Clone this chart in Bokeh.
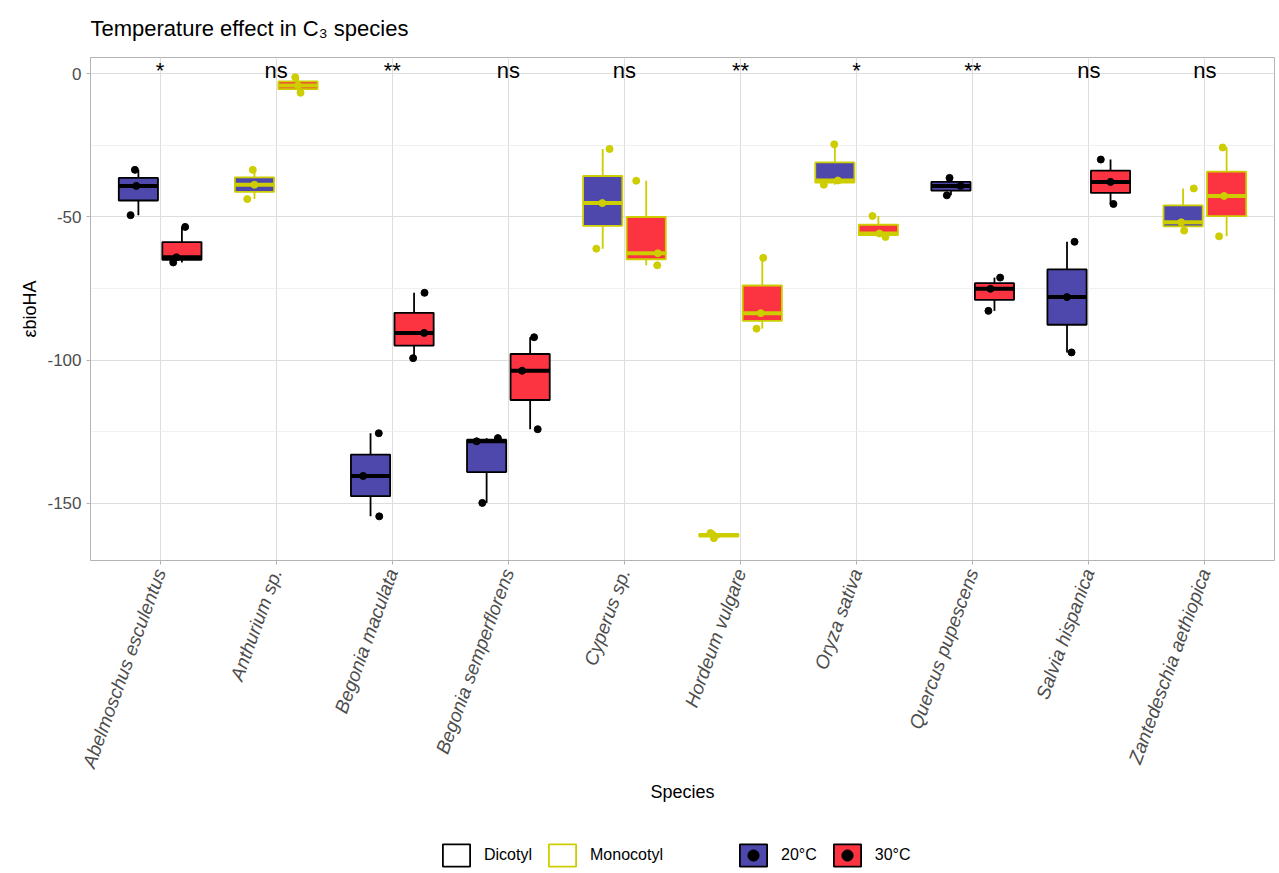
import numpy as np
from bokeh.plotting import figure
from bokeh.layouts import column
from bokeh.models import Range1d, FixedTicker, Legend, LegendItem, ColumnDataSource
from bokeh.core.properties import value
from bokeh.embed import file_html
from bokeh.resources import INLINE

# ---------------- data ----------------
species = ["Abelmoschus esculentus", "Anthurium sp.", "Begonia maculata",
           "Begonia semperflorens", "Cyperus sp.", "Hordeum vulgare",
           "Oryza sativa", "Quercus pupescens", "Salvia hispanica",
           "Zantedeschia aethiopica"]
clade = ["Dicotyl", "Monocotyl", "Dicotyl", "Dicotyl", "Monocotyl",
         "Monocotyl", "Monocotyl", "Dicotyl", "Dicotyl", "Monocotyl"]
signif = ["*", "ns", "**", "ns", "ns", "**", "*", "**", "ns", "ns"]
temps = ["20°C", "30°C"]
y_ticks = [-150, -100, -50, 0]
y_tick_labels = ["-150", "-100", "-50", "0"]

eps_20 = [[-33.6, -39.2, -49.4], [-33.6, -38.8, -43.8], [-125.5, -140.4, -154.5],
          [-127.2, -128.3, -149.8], [-26.3, -45.2, -61.1], [-160.3, -161.0, -162.1],
          [-24.7, -37.3, -38.8], [-36.4, -39.2, -42.5], [-58.7, -78.0, -97.3],
          [-40.1, -51.9, -54.8]]
eps_30 = [[-53.5, -64.1, -65.9], [-1.3, -4.2, -6.7], [-76.5, -90.5, -99.3],
          [-92.0, -103.7, -124.1], [-37.4, -62.7, -66.9], [-64.3, -83.6, -89.0],
          [-49.7, -55.8, -57.0], [-71.2, -75.1, -82.8], [-30.0, -37.8, -45.5],
          [-25.8, -42.7, -56.8]]
# horizontal jitter of the points (in category units)
jit_20 = [[-0.03, -0.018, -0.067], [-0.014, 0.0, -0.062], [0.071, -0.063, 0.075],
          [0.097, -0.086, -0.037], [0.059, -0.003, -0.055], [-0.071, -0.05, -0.042],
          [-0.005, 0.026, -0.095], [-0.012, 0.083, -0.035], [0.065, 0.0, 0.039],
          [0.092, -0.016, 0.009]]
jit_30 = [[0.028, -0.047, -0.075], [-0.024, 0.0, 0.022], [0.09, 0.087, -0.008],
          [0.034, -0.069, 0.065], [-0.086, 0.1, 0.095], [0.008, -0.013, -0.05],
          [-0.051, 0.009, 0.061], [0.049, -0.034, -0.052], [-0.084, 0.0, 0.025],
          [-0.034, -0.022, -0.065]]
sig_y = 1.2

# ---------------- styles ----------------
FONT = "Liberation Sans"
fill_col = {"20°C": "#4F48AC", "30°C": "#FC3441"}
line_col = {"Dicotyl": "#000000", "Monocotyl": "#CDCD00"}
dodge = {"20°C": -0.1875, "30°C": 0.1875}
box_w = 0.3375

vals = {"20°C": eps_20, "30°C": eps_30}
jits = {"20°C": jit_20, "30°C": jit_30}

box = dict(x=[], q1=[], med=[], q3=[], lo=[], hi=[], fill=[], line=[], x0=[], x1=[])
pts = dict(x=[], y=[], color=[])
for i, sp in enumerate(species):
    for t in temps:
        v = np.array(vals[t][i])
        q1, med, q3 = np.percentile(v, [25, 50, 75])
        iqr = q3 - q1
        lo = v[v >= q1 - 1.5 * iqr].min()
        hi = v[v <= q3 + 1.5 * iqr].max()
        xc = i + 1 + dodge[t]
        box["x"].append(xc); box["q1"].append(q1); box["med"].append(med)
        box["q3"].append(q3); box["lo"].append(lo); box["hi"].append(hi)
        box["fill"].append(fill_col[t]); box["line"].append(line_col[clade[i]])
        box["x0"].append(xc - box_w / 2); box["x1"].append(xc + box_w / 2)
        for y, j in zip(vals[t][i], jits[t][i]):
            pts["x"].append(xc + j); pts["y"].append(y)
            pts["color"].append(line_col[clade[i]])

bsrc = ColumnDataSource(box)
psrc = ColumnDataSource(pts)
tsrc = ColumnDataSource(dict(x=list(range(1, len(species) + 1)),
                             y=[sig_y] * len(species), text=signif))

p = figure(width=1279, height=830, x_range=Range1d(0.4, 10.6), y_range=Range1d(-169.9, 5.6),
           output_backend="svg", toolbar_location=None,
           min_border_left=90, min_border_right=5, min_border_top=57, min_border_bottom=270)

p.title.text = "Temperature effect in C\u2083 species"
p.title.text_font = FONT
p.title.text_font_size = "22px"
p.title.text_font_style = "normal"
p.title.text_color = "black"
p.title.standoff = 29
p.title.vertical_align = "top"
p.title.align = "left"

p.outline_line_color = "#B3B3B3"
p.outline_line_width = 1
p.background_fill_color = "white"

p.xgrid.grid_line_color = "#DEDEDE"
p.ygrid.grid_line_color = "#DEDEDE"
p.ygrid.minor_grid_line_color = "#EBEBEB"
p.ygrid.minor_grid_line_width = 0.7

p.yaxis.ticker = FixedTicker(ticks=y_ticks, minor_ticks=[-175, -125, -75, -25, 25])
p.yaxis.major_label_overrides = dict(zip(y_ticks, y_tick_labels))
p.xaxis.ticker = FixedTicker(ticks=list(range(1, len(species) + 1)))
p.xaxis.major_label_overrides = {i + 1: s for i, s in enumerate(species)}
p.xaxis.major_label_orientation = np.deg2rad(70)
p.xaxis.major_label_text_font_style = "italic"

for ax in (p.xaxis[0], p.yaxis[0]):
    ax.axis_line_color = None
    ax.major_tick_line_color = "#B3B3B3"
    ax.major_tick_out = 4
    ax.major_tick_in = 0
    ax.minor_tick_line_color = None
    ax.major_label_text_font = FONT
    ax.major_label_text_color = "#4D4D4D"
    ax.axis_label_text_font = FONT
    ax.axis_label_text_font_size = "18px"
    ax.axis_label_text_font_style = "normal"
    ax.axis_label_text_color = "black"
p.xaxis.major_label_text_font_size = "19px"
p.yaxis.major_label_text_font_size = "17px"
p.xaxis.axis_label = "Species"
p.yaxis.axis_label = "εbioHA"
p.xaxis.axis_label_standoff = 5
p.yaxis.axis_label_standoff = 4

# whiskers
p.segment(x0="x", y0="lo", x1="x", y1="q1", line_color="line", line_width=1.8, source=bsrc)
p.segment(x0="x", y0="q3", x1="x", y1="hi", line_color="line", line_width=1.8, source=bsrc)
# boxes
p.quad(left="x0", right="x1", bottom="q1", top="q3", fill_color="fill", line_color="line",
       line_width=1.8, source=bsrc)
# medians
p.segment(x0="x0", y0="med", x1="x1", y1="med", line_color="line", line_width=4, source=bsrc)
# points
p.scatter(x="x", y="y", size=7, fill_color="color", line_color="color", source=psrc)
# significance labels
p.text(x="x", y="y", text="text", text_align="center", text_baseline="middle",
       text_font=value(FONT), text_font_size="22px", text_color="black", source=tsrc)

# ---------------- legend strip ----------------
lg = figure(width=1279, height=43, x_range=Range1d(0, 1), y_range=Range1d(0, 1),
            output_backend="svg", toolbar_location=None, x_axis_type=None, y_axis_type=None,
            min_border_left=0, min_border_right=0, min_border_top=0, min_border_bottom=0)
lg.outline_line_color = None
lg.xgrid.visible = False
lg.ygrid.visible = False

# key renderers hold one off-range dummy row so that the legend can draw them
dummy = ColumnDataSource(dict(a=[5.0], b=[6.0]))

def key_box(fill, line):
    return lg.quad(left="a", right="b", top="b", bottom="a", fill_color=fill,
                   line_color=line, line_width=1.8, source=dummy)

r_dic = key_box("white", line_col["Dicotyl"])
r_mon = key_box("white", line_col["Monocotyl"])
r_20 = key_box(fill_col["20°C"], "black")
r_30 = key_box(fill_col["30°C"], "black")
r_dot = lg.scatter(x="a", y="b", size=8, color="black", source=dummy)

def make_legend(items, loc):
    return Legend(items=items, orientation="horizontal", location=loc,
                  padding=0, margin=0, spacing=13, label_standoff=11,
                  glyph_width=34, glyph_height=28, border_line_color=None,
                  background_fill_alpha=0, label_text_font=FONT,
                  label_text_font_size="16px", label_text_color="black")

leg1 = make_legend([LegendItem(label="Dicotyl", renderers=[r_dic]),
                    LegendItem(label="Monocotyl", renderers=[r_mon])], (349, 4))
leg2 = make_legend([LegendItem(label="20°C", renderers=[r_20, r_dot]),
                    LegendItem(label="30°C", renderers=[r_30, r_dot])], (646, 4))
lg.add_layout(leg1)
lg.add_layout(leg2)

page = column(p, lg, spacing=0)
open("out.html", "w").write(file_html(page, INLINE))
